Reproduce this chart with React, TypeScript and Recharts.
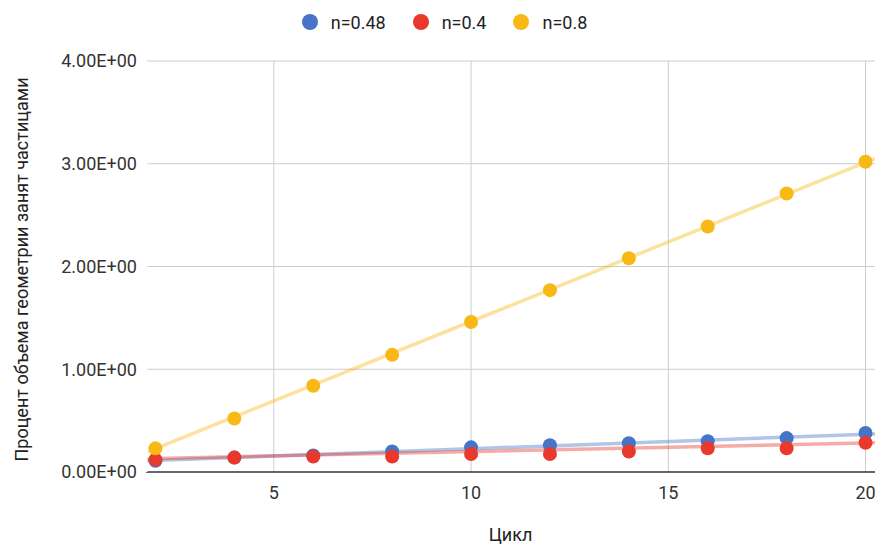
import React from 'react';
import { ComposedChart, Line, Scatter, XAxis, YAxis, ReferenceLine } from 'recharts';

const cycles = [2, 4, 6, 8, 10, 12, 14, 16, 18, 20];
const n048 = [0.11, 0.14, 0.16, 0.2, 0.24, 0.26, 0.28, 0.3, 0.33, 0.38];
const n04 = [0.12, 0.14, 0.15, 0.15, 0.175, 0.175, 0.2, 0.23, 0.23, 0.285];
const n08 = [0.23, 0.52, 0.84, 1.14, 1.46, 1.77, 2.08, 2.39, 2.71, 3.02];

// trendline ends at the edges of the x range
const xRange = [1.76, 20.24];
const trend048 = [0.11, 0.37];
const trend04 = [0.13, 0.285];
const trend08 = [0.19, 3.05];

const xTicks = [5, 10, 15, 20];
const yTicks = [0, 1, 2, 3, 4];

const series = [
  { name: 'n=0.48', color: '#4674c6', values: n048, trend: trend048 },
  { name: 'n=0.4', color: '#e8392c', values: n04, trend: trend04 },
  { name: 'n=0.8', color: '#f8b917', values: n08, trend: trend08 },
];

const font = 'Roboto, "Liberation Sans", Arial, sans-serif';
const gridColor = '#cccccc';

const toPoints = (values: number[]) => cycles.map((c, i) => ({ x: c, y: values[i] }));
const toTrend = (ends: number[]) => xRange.map((x, i) => ({ x, y: ends[i] }));

const Legend = () => (
  <div
    style={{
      position: 'absolute', top: 12, left: 0, width: 875, paddingLeft: 14, boxSizing: 'border-box',
      display: 'flex', justifyContent: 'center', alignItems: 'center', height: 20,
      fontFamily: font, fontSize: 18, color: '#222',
    }}
  >
    {series.map((s, i) => (
      <div key={s.name} style={{ display: 'flex', alignItems: 'center', marginRight: i < series.length - 1 ? 27 : 0 }}>
        <span style={{ width: 16, height: 16, borderRadius: 8, background: s.color, marginRight: 13, display: 'inline-block' }} />
        <span>{s.name}</span>
      </div>
    ))}
  </div>
);

const App: React.FC = () => (
  <div style={{ position: 'fixed', top: 0, left: 0, width: 875, height: 546, background: '#fff', overflow: 'hidden' }}>
    <Legend />
    <ComposedChart width={875} height={546} margin={{ top: 61, right: 0, bottom: 0, left: 0 }}>
      {/* grid drawn as reference lines so the plot's left edge stays open */}
      {yTicks.filter((t) => t > 0).map((t) => (
        <ReferenceLine key={`h-${t}`} y={t} stroke={gridColor} />
      ))}
      {xTicks.map((t) => (
        <ReferenceLine key={`v-${t}`} x={t} stroke={gridColor} />
      ))}
      <XAxis
        type="number"
        dataKey="x"
        domain={xRange}
        ticks={xTicks}
        allowDataOverflow
        height={74}
        tickLine={false}
        tickSize={0}
        tickMargin={14}
        axisLine={{ stroke: '#333', strokeWidth: 1.3 }}
        tick={{ fill: '#333', fontSize: 18, fontFamily: font }}
        label={{
          content: ({ viewBox }: any) => (
            <text x={viewBox.x + viewBox.width / 2} y={viewBox.y + viewBox.height - 5} textAnchor="middle"
              fill="#222" fontSize={18} fontFamily={font}>Цикл</text>
          ),
        }}
      />
      <YAxis
        type="number"
        domain={[0, 4]}
        ticks={yTicks}
        width={146}
        axisLine={{ stroke: '#ffffff', strokeWidth: 3 }}
        tickLine={false}
        tickSize={0}
        tickMargin={9}
        tickFormatter={(v: number) => `${v.toFixed(2)}E+00`}
        tick={{ fill: '#333', fontSize: 18, fontFamily: font }}
        label={{
          content: ({ viewBox }: any) => {
            const cx = viewBox.x + 21;
            const cy = viewBox.y + viewBox.height / 2 + 3;
            return (
              <text x={cx} y={cy} transform={`rotate(-90, ${cx}, ${cy})`} textAnchor="middle" dominantBaseline="central"
                fill="#222" fontSize={18} fontFamily={font}>Процент объема геометрии занят частицами</text>
            );
          },
        }}
      />
      {series.map((s) => (
        <Line
          key={`t-${s.name}`}
          data={toTrend(s.trend)}
          dataKey="y"
          stroke={s.color}
          strokeOpacity={0.42}
          strokeWidth={3.5}
          dot={false}
          activeDot={false}
          isAnimationActive={false}
        />
      ))}
      {series.map((s) => (
        <Scatter
          key={s.name}
          name={s.name}
          data={toPoints(s.values)}
          dataKey="y"
          fill={s.color}
          isAnimationActive={false}
          shape={(p: any) => <circle cx={p.cx} cy={p.cy} r={7} fill={s.color} />}
        />
      ))}
    </ComposedChart>
  </div>
);

export default App;
